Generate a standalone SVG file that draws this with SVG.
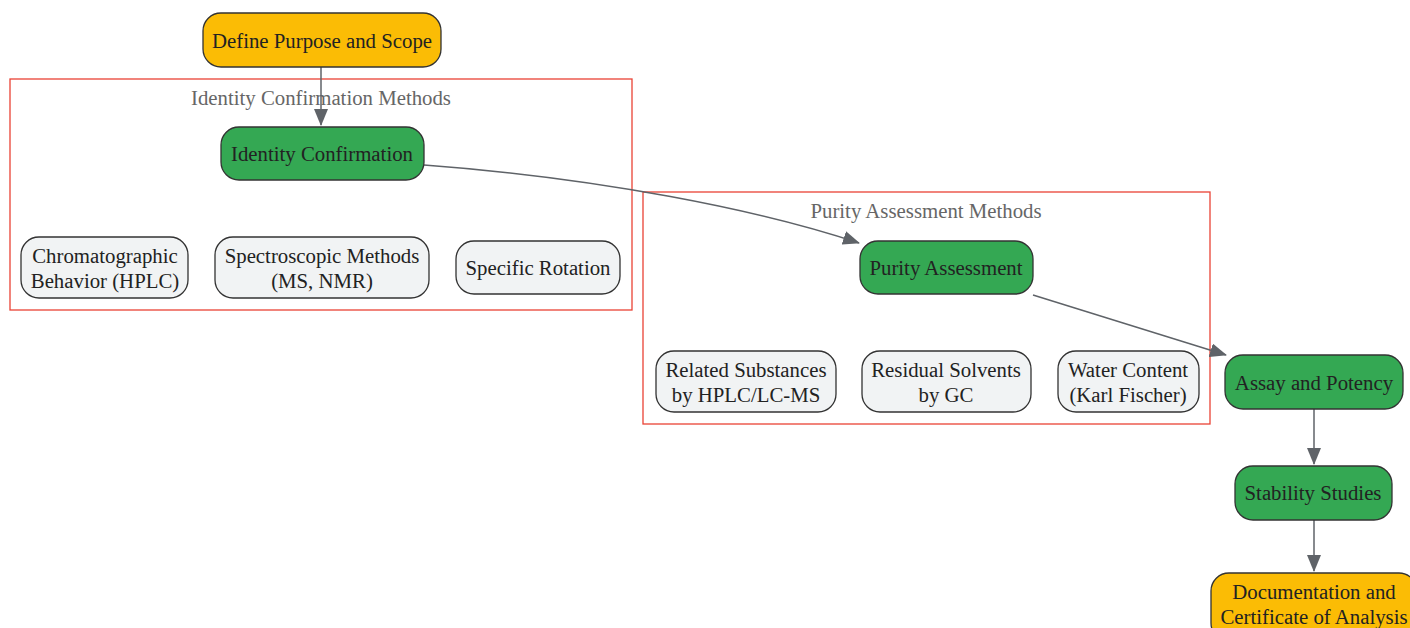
<svg xmlns="http://www.w3.org/2000/svg" width="1410" height="628" viewBox="0 0 1410 628">
<style>
.node rect{stroke:#333;stroke-width:1.3}
.yel{fill:#FBBC05}
.grn{fill:#34A853}
.gry{fill:#F1F3F4}
text{font-family:"Liberation Serif","Times New Roman",serif;font-size:20.8px;fill:#222;text-anchor:middle}
.ct{fill:#666}
.cl{fill:none;stroke:#EA4335;stroke-width:1.3}
.edge{fill:none;stroke:#5f6368;stroke-width:1.5}
</style>
<defs>
<marker id="ah" viewBox="0 0 17 14" refX="16" refY="7" markerWidth="17" markerHeight="14" markerUnits="userSpaceOnUse" orient="auto">
<path d="M0,0 L17,7 L0,14 z" fill="#5f6368"/>
</marker>
</defs>
<rect class="cl" x="10" y="79" width="622" height="231"/>
<text class="ct" x="321" y="105">Identity Confirmation Methods</text>
<rect class="cl" x="643" y="192" width="567" height="232"/>
<text class="ct" x="926" y="218">Purity Assessment Methods</text>
<g id="edges">
<path class="edge" d="M321,67 L321,125" marker-end="url(#ah)"/>
<path class="edge" d="M424,165 C600,178 760,210 859,243" marker-end="url(#ah)"/>
<path class="edge" d="M1033,295 L1226,355" marker-end="url(#ah)"/>
<path class="edge" d="M1314,409 L1314,464" marker-end="url(#ah)"/>
<path class="edge" d="M1314,520 L1314,571" marker-end="url(#ah)"/>
</g>
<g id="define" class="node"><rect class="yel" x="203" y="13" width="238" height="54" rx="18"/><text x="322" y="48">Define Purpose and Scope</text></g>
<g id="identity" class="node"><rect class="grn" x="221" y="127" width="203" height="53" rx="18"/><text x="322" y="161">Identity Confirmation</text></g>
<g id="chrom" class="node"><rect class="gry" x="21" y="237" width="167" height="61" rx="18"/><text x="105" y="263">Chromatographic</text><text x="105" y="287.5">Behavior (HPLC)</text></g>
<g id="spec" class="node"><rect class="gry" x="215" y="237" width="214" height="61" rx="18"/><text x="322" y="263">Spectroscopic Methods</text><text x="322" y="287.5">(MS, NMR)</text></g>
<g id="rot" class="node"><rect class="gry" x="456" y="241" width="164" height="53" rx="18"/><text x="538" y="275">Specific Rotation</text></g>
<g id="purity" class="node"><rect class="grn" x="860" y="241" width="173" height="53" rx="18"/><text x="946" y="275">Purity Assessment</text></g>
<g id="related" class="node"><rect class="gry" x="656" y="351" width="180" height="61" rx="18"/><text x="746" y="377">Related Substances</text><text x="746" y="401.5">by HPLC/LC-MS</text></g>
<g id="residual" class="node"><rect class="gry" x="862" y="351" width="169" height="61" rx="18"/><text x="946" y="377">Residual Solvents</text><text x="946" y="401.5">by GC</text></g>
<g id="water" class="node"><rect class="gry" x="1058" y="351" width="141" height="61" rx="18"/><text x="1128" y="377">Water Content</text><text x="1128" y="401.5">(Karl Fischer)</text></g>
<g id="assay" class="node"><rect class="grn" x="1225" y="355" width="178" height="54" rx="18"/><text x="1314" y="390">Assay and Potency</text></g>
<g id="stability" class="node"><rect class="grn" x="1235" y="466" width="157" height="54" rx="18"/><text x="1313" y="500">Stability Studies</text></g>
<g id="doc" class="node"><rect class="yel" x="1211" y="573" width="206" height="68" rx="18"/><text x="1314" y="599">Documentation and</text><text x="1314" y="623.5">Certificate of Analysis</text></g>
</svg>
